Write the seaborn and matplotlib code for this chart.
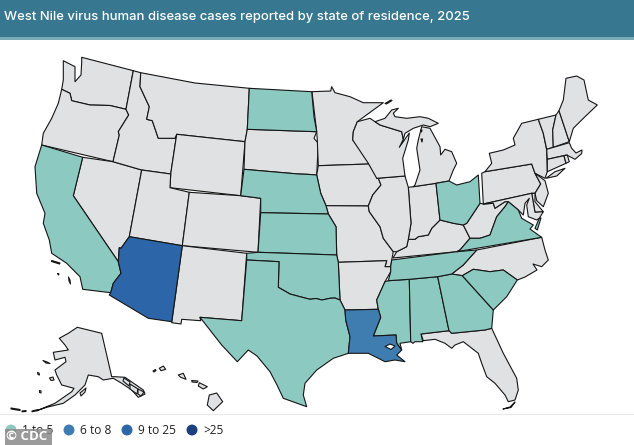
import matplotlib
matplotlib.use("Agg")
import matplotlib.pyplot as plt
import pandas as pd
import seaborn as sns

TITLE = "West Nile virus human disease cases reported by state of residence, 2025"
BIN_LABELS = ["1 to 5", "6 to 8", "9 to 25", ">25"]
BIN_COLORS = ["#8CCAC1", "#3F7DB0", "#2D66A8", "#1C3F80"]
NO_CASES = "#E0E1E3"

WA = [(81.7,57.3),(133.3,70.7),(126,109.3),(110,105.5),(90,105),(71.7,100.7),(70,93.3),(61.7,89.3),(63.3,80),(63.3,60.7),(75,66.7),(75,81.7),(81,75),(81.7,62)]
OR = [(61.7,89.3),(70,93.3),(71.7,100.7),(90,105),(110,105.5),(126,109.3),(128.7,115),(118.3,131.7),(119.3,135),(113,161.7),(41.7,145),(43.3,133.3),(51.7,118.3),(58.3,103.3)]
CA = [(41.7,145),(82.7,157.3),(73.3,195.7),(118.3,261.7),(121,273.3),(113.3,283.3),(110.7,292.7),(82.7,289.3),(80,276.7),(66.7,263.3),(51.7,253.3),(49.3,240),(43.3,223.3),(45,213.3),(36.7,193.3),(35,166.7)]
NV = [(82.7,157.3),(113,161.7),(141.7,170),(129.3,236.7),(121,248.3),(119.3,247.7),(118.3,261.7),(73.3,195.7)]
ID = [(133.3,70.7),(140.7,72.7),(140,86.7),(149.3,106.7),(146.7,119.3),(152.3,120.7),(158.3,138.3),(175,138.3),(176.7,134.3),(170.7,174),(141.7,170),(113,161.7),(119.3,135),(118.3,131.7),(128.7,115),(126,109.3)]
MT = [(140.7,72.7),(195,83),(249.3,88.3),(247.3,129.3),(245,141.7),(176.7,134.3),(175,138.3),(158.3,138.3),(152.3,120.7),(146.7,119.3),(149.3,106.7),(140,86.7)]
WY = [(176.7,134.3),(245,141.7),(240.7,195.7),(170,187.7),(170.7,174)]
UT = [(141.7,170),(170.7,174),(170,187.7),(189.3,192.3),(182.3,245.7),(129.3,236.7)]
CO = [(189.3,192.3),(240.7,195.7),(260.7,198.3),(258,252.3),(182.3,245.7)]
AZ = [(129.3,236.7),(182.3,245.7),(171.7,321.7),(148.3,318.3),(109.3,295),(110.7,292.7),(113.3,283.3),(121,273.3),(118.3,261.7),(119.3,247.7),(121,248.3)]
NM = [(182.3,245.7),(246.7,253.3),(241.7,320.7),(200,317.3),(200.7,320.7),(181.7,319.3),(181,324),(171.7,322.7)]
ND = [(249.3,88.3),(311.7,91.7),(314,116.7),(316.7,131.7),(247.3,129.3)]
SD = [(247.3,129.3),(316.7,131.7),(314,138.3),(318.3,143.3),(316.7,175),(306.7,174.3),(298.3,174),(244,169.3),(245,141.7)]
NE = [(244,169.3),(298.3,174),(306.7,174.3),(316.7,175),(320.7,193.3),(326,205.7),(328.3,214),(260.7,212.7),(260.7,198.3),(240.7,195.7)]
KS = [(260.7,212.7),(328.3,214),(336,226.7),(336.7,255),(258,252.3)]
OK = [(246.7,253.3),(258,252.3),(336.7,255),(338.3,262.3),(340,300),(335,298),(330,298.3),(322,300),(316,298.5),(310,299.3),(300,296.7),(290,294),(278.3,287.3),(279,261.7),(246.7,260)]
TX = [(246.7,260),(279,261.7),(278.3,287.3),(290,294),(300,296.7),(310,299.3),(316,298.5),(322,300),(330,298.3),(335,298),(340,300),(345,310),(345.7,320),(350,336.7),(348.3,353.3),(333.3,358.3),(316.7,370),(305,383.3),(303.3,395),(306.7,406.7),(283.3,398.3),(277,385),(270,371.7),(257,356),(248.3,350),(237.3,361.7),(221.7,345),(200,317.3),(241.7,320.7)]
MN = [(312,91.7),(330.7,91),(331.7,86.7),(335,92.7),(350,96.7),(363.3,102.7),(383.3,102.7),(357.3,121.7),(353.3,131.7),(352.7,140),(368.3,158.3),(369,164),(318.3,165.7),(317.3,140),(316.7,131.7),(313.3,103.3)]
IA = [(318.3,165.7),(369,164),(370.7,166.7),(378.3,178.3),(381,185),(372.7,195),(368.3,206),(326,205.7),(320.7,193.3),(316.7,175)]
MO = [(326,205.7),(368.3,206),(369.3,211.7),(380,226.7),(383.3,238.3),(393.3,251.7),(391.7,260),(390.7,266.7),(385,266.7),(386.7,260.7),(338.3,262.3),(336.7,255),(336,226.7),(328.3,214)]
AR = [(338.3,262.3),(386.7,260.7),(385,266.7),(390.7,266.7),(390.7,271.7),(385,281.7),(376.7,300),(378.3,309.3),(345,310),(340,300)]
LA = [(345,310),(378.3,309.3),(380.7,317.3),(373.3,336),(396,335),(396.7,343.3),(401.7,350),(396.7,355),(405,361.7),(395,360),(385,361.7),(378.3,358.3),(368.3,353.3),(348.3,353.3),(350,336.7),(345.7,320)]
LA_LAKE = [(385,346.5),(390,344),(395,346),(391,349.5)]
MS = [(388.3,280.7),(409.3,279.3),(410.7,341.7),(400,343.3),(401.7,350),(396.7,343.3),(396,335),(373.3,336),(380.7,317.3),(378.3,309.3),(376.7,300),(385,281.7)]
AL = [(409.3,279.3),(437.7,276.7),(449,330.7),(421,334),(422.7,341.7),(415,341.7),(413,343.3),(410.7,341.7)]
GA = [(437.7,276.7),(451.7,274),(462.3,275.7),(493.3,310),(491.7,328.3),(485,330),(451.7,333.3),(449,330.7)]
FL = [(421,334),(449,330.7),(451.7,333.3),(485,330),(491.7,328.3),(503.3,353.3),(516.7,378.3),(518.3,390),(515,400),(508.3,401.7),(505,395),(495,383.3),(486.7,376.7),(481.7,363.3),(478.3,353.3),(463.3,341.7),(455,345),(451.7,348.3),(445,343.3),(435,339.3),(423.3,340.7)]
FL_KEYS = [(503,409),(510,407),(515,402),(511,407.5)]
SC = [(462.3,275.7),(473.3,269.3),(490,271.7),(503.3,270),(517.3,280),(506.7,296.7),(493.3,310)]
NC = [(451.7,274),(463.3,265),(476.7,250),(541.7,237.3),(545,250),(548.3,260),(541.7,266.7),(533,264),(537,270),(525,277),(517.3,280),(503.3,270),(490,271.7),(473.3,269.3),(462.3,275.7)]
TN = [(390.7,266.7),(391.7,260),(456.7,251.7),(476.7,250),(463.3,265),(451.7,274),(437.7,276.7),(409.3,279.3),(388.3,280.7),(390.7,271.7)]
KY = [(396.7,251.7),(406.7,246.7),(408.3,239.3),(415,239.3),(418.3,236.7),(428.3,235),(431.7,228.3),(440,220),(453.3,223.3),(463.3,225),(470,238.3),(460,250),(456.7,251.7),(393,258)]
VA = [(456.7,251.7),(460,250),(470,238.3),(480,238.3),(490,235),(496.7,216.7),(505,206.7),(508.3,201.7),(518.3,210),(521.7,218.3),(533.3,225),(530,229),(538.3,235),(541.7,237.3)]
WV = [(480,203.3),(483.3,204),(493.3,203.3),(495,208.3),(505,201.7),(508.3,201.7),(505,206.7),(496.7,216.7),(490,235),(480,238.3),(470,238.3),(463.3,225),(466.7,223.3)]
OH = [(478.3,175),(480,203.3),(466.7,223.3),(463.3,225),(453.3,223.3),(440,220),(436,183.3),(449,181),(456.7,185),(470,181.7)]
IN = [(408.3,187.3),(413.3,186.7),(436,183.3),(440,220),(431.7,228.3),(428.3,235),(418.3,236.7),(415,239.3),(408.3,239.3),(411,223.3)]
IL = [(376.7,178.3),(405,176),(408.3,187.3),(411,223.3),(408.3,239.3),(406.7,246.7),(396.7,251.7),(393.3,251.7),(383.3,238.3),(380,226.7),(369.3,211.7),(368.3,206),(372.7,195),(381,185),(378.3,178.3)]
WI = [(357.3,121.7),(370,118.3),(375,121.7),(380,125),(401.7,131.7),(403.3,139.3),(399.3,147.3),(409.3,133),(408.3,140),(402.7,158.3),(405,176),(376.7,178.3),(368.3,163.3),(352.7,140),(353.3,131.7)]
MI_UP = [(375,121.7),(385,118.3),(391.7,110),(398.3,108.3),(393.3,113.3),(395,116.7),(406.7,118.3),(420,116.7),(428.3,118.3),(438.3,123.3),(430,126.7),(423.3,125),(413.3,128.3),(405,133.3),(403.3,139.3),(401.7,131.7),(380,125)]
MI_LP = [(413.3,186.7),(436,183.3),(449,181),(453.3,170),(456.7,163.3),(451.7,151.7),(445,149.3),(440.7,155),(440,146.7),(430,128.3),(421.7,126.7),(418.3,140),(416.7,148.3),(420,170),(415,185)]
ISLE_ROYALE = [(385,103.5),(391,100),(392,100.5),(386.5,104)]
BEAVER_IS = [(420.5,130),(422,130),(421.5,132)]
MI_DOT = [(421,139),(422.5,139),(422,142)]
PA = [(481.7,173.3),(485,171.7),(531.7,164),(535,173.3),(540.7,184),(535,193.3),(531.7,193.3),(483.3,204)]
NY = [(485,171.7),(491.7,163.3),(489.3,153.3),(503.3,150),(515,145),(513.3,138.3),(521.7,123.3),(538.3,119.3),(543.3,133.3),(546.7,150),(547.3,171.7),(545,178.3),(535,173.3),(531.7,164)]
LI = [(546,178.3),(555,171.7),(565,168.3),(556.7,176)]
VT = [(538.3,119.3),(556,115),(552.7,130),(553.3,147.3),(546.7,149.3),(543.3,133.3)]
NH = [(556,115),(559,110.7),(569.3,141.7),(553.3,147.3),(552.7,130)]
ME = [(559,110.7),(563.3,100),(566,78.3),(576.7,76),(584,80),(588.3,100),(597.3,105),(585,116.7),(573.3,128.3),(569.3,141.7)]
MA = [(546.7,149.3),(569.3,142.7),(571.7,148.3),(576,153),(582,150),(581.7,153.5),(575,159.3),(566.7,155),(547.3,159.3)]
CT = [(547.3,159.3),(564,155.7),(566,163.3),(547.3,171.7)]
RI = [(564,155.7),(567.3,155),(569.3,161.7),(566,163.3)]
NJ = [(535,173.3),(545,180.7),(548.3,193.3),(543.3,206.7),(536.7,200.7),(535,193.3),(540.7,184)]
DE = [(531.7,193.3),(535,193.3),(535,201.7),(543.3,211.7),(535,212.3)]
MD = [(483.3,204),(531.7,193.3),(535,212.3),(543.3,211.7),(539.3,218.3),(536.7,220),(528.3,216.7),(526.7,205),(529.3,198.3),(525,203.3),(523.3,215),(518.3,210),(508.3,201.7),(505,201.7),(495,208.3),(493.3,203.3)]
VA_SHORE = [(539.3,218.3),(541,218),(537.3,230),(535,228.3)]
AK = [(77.3,327.3),(101.7,333.3),(111.7,376.7),(115,376.7),(125,377.3),(143.3,390),(145,394),(138.3,397.3),(131.7,390),(121.7,383.3),(113.3,378.3),(103.3,380),(98.3,376.7),(88.3,375),(85,385),(75,395),(63.3,403.3),(46.7,407.3),(36.7,410.7),(55,403.3),(71.7,391.7),(74,388.3),(61.7,385),(56.7,375),(55,370),(66,361.7),(65,357.3),(55,360),(53.3,352.3),(68.3,350),(65,345),(59.3,338.3),(68.3,333.3)]
AK_PAN1 = [(124,378),(130,382),(129,386),(123,381)]
AK_PAN2 = [(130,384),(138,389),(137,394),(130,389)]
AK_PAN3 = [(138,389),(144,392),(141,396),(138,394)]
AK_KODIAK = [(80,393),(86,388),(85,392),(81,396)]
AK_STL = [(43,360.5),(47,362),(50,363.5),(46,363)]
AK_NUN = [(49.5,378),(53,377),(54,380),(51,380.5)]
AK_ISLE1 = [(37.5,372.5),(39,373),(39.5,375),(38,374.5)]
AK_ISLE2 = [(39.5,390.5),(41,391),(41,393),(39.5,392.5)]
ALEUT1 = [(11,408),(20,409.5),(20,410.5),(11,409)]
ALEUT2 = [(22,411),(26,410.5),(26,411.5),(22,411.8)]
ALEUT3 = [(32,411),(38,409.5),(38,410.5),(32,411.8)]
HI_BIG = [(209.3,395),(216.7,393),(222.7,401.7),(213.3,410.7),(207.3,405)]
HI_MAUI = [(199.3,382.7),(207.3,386.7),(203.3,389),(198.3,386)]
HI_MOLOKAI = [(191.7,380.5),(198,381),(197,382.5),(192,382)]
HI_OAHU = [(178.3,375),(183.3,373.3),(186,379.3),(180.7,377.3)]
HI_KAUAI = [(159.3,368.3),(163.3,366),(165.7,369.3),(161,370.7)]
HI_NIIHAU = [(153,371),(155.5,369.5),(156,370.5),(154,372)]
CA_ISLE1 = [(51.7,260.5),(60,263),(59.5,264),(51.5,261.5)]
CA_ISLE2 = [(57.5,273.5),(59,274),(58.5,275)]
CA_ISLE3 = [(68.5,277),(70,280),(70.5,284),(69,281)]

STATES_NONE = [WA, OR, NV, ID, MT, WY, UT, CO, NM, SD, MN, IA, MO, AR, FL, FL_KEYS, NC, KY, WV, IN, IL, WI,
               MI_UP, MI_LP, ISLE_ROYALE, PA, NY, LI, VT, NH, ME, MA, CT, RI, NJ, DE, MD, AK,
               AK_PAN1, AK_PAN2, AK_PAN3, AK_KODIAK, AK_STL, AK_NUN, AK_ISLE1, AK_ISLE2,
               ALEUT1, ALEUT2, ALEUT3, HI_BIG, HI_MAUI, HI_MOLOKAI, HI_OAHU, HI_KAUAI, HI_NIIHAU,
               CA_ISLE1, CA_ISLE2, CA_ISLE3]
STATES_BIN1 = [CA, ND, NE, KS, OK, TX, MS, AL, GA, SC, TN, VA, OH, VA_SHORE]
STATES_BIN2 = [LA]
STATES_BIN3 = [AZ]
LAKES = [LA_LAKE]
DARK_SPECKS = [BEAVER_IS, MI_DOT]

sns.set_theme(style="white")
plt.rcParams["font.family"] = ["Open Sans", "DejaVu Sans"]

fig = plt.figure(figsize=(6.34, 4.45), dpi=100)
ax = fig.add_axes([0, 0, 1, 1])
ax.set_xlim(0, 634)
ax.set_ylim(445, 0)
ax.axis("off")

# Header
ax.axhspan(0, 36.5, color="#37778F", lw=0)
ax.axhspan(36.5, 39.5, color="#7AABB6", lw=0)
ax.text(4, 17, TITLE, color="white", fontsize=9.4, va="center", ha="left",
        family=["Inter", "DejaVu Sans"], fontweight="medium")

for group, colour in [(STATES_NONE, NO_CASES), (STATES_BIN1, BIN_COLORS[0]),
                      (STATES_BIN2, BIN_COLORS[1]), (STATES_BIN3, BIN_COLORS[2]),
                      (LAKES, "white"), (DARK_SPECKS, "#151515")]:
    for outline in group:
        xs, ys = zip(*outline)
        ax.fill(xs, ys, facecolor=colour, edgecolor="#151515", linewidth=0.8, joinstyle="round")

# Legend
ax.plot([0, 634], [414, 414], color="#E8E8E8", lw=0.8)
legend = pd.DataFrame({"x": [11, 69, 127, 192], "y": [430] * 4, "label": BIN_LABELS})
sns.scatterplot(data=legend, x="x", y="y", hue="label", palette=BIN_COLORS, s=62,
                edgecolor="none", legend=False, ax=ax, zorder=3)
for px, lab in zip(legend["x"], BIN_LABELS):
    ax.text(px + 11, 430, lab, fontsize=8.6, color="#222222", va="center", ha="left")
ax.set_xlabel("")
ax.set_ylabel("")

# Photo credit
ax.fill_between([5, 52], 429, 445, color="#8A8A8A", alpha=0.85, lw=0, zorder=4)
ax.text(6, 437, "© CDC", color="white", fontsize=9.5, fontweight="bold", va="center", ha="left", zorder=5)

fig.savefig("out.png", dpi=100)
